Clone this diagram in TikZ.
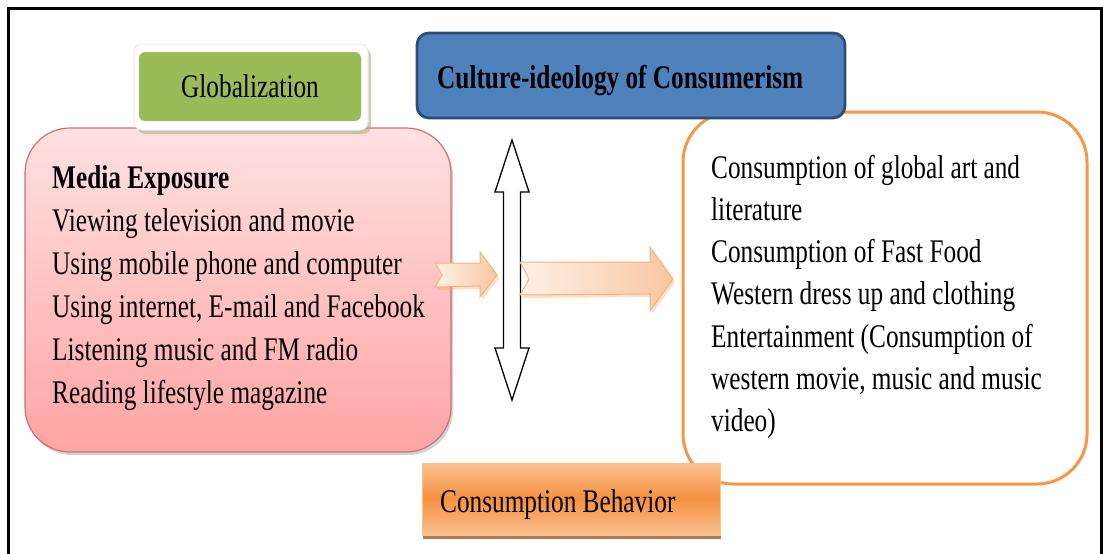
\documentclass[tikz,border=0pt]{standalone}
\usepackage{fontspec}
\setmainfont{Liberation Serif}[FakeStretch=0.766]
\usetikzlibrary{shadows,calc}
\definecolor{pinktop}{HTML}{FFE1E1}
\definecolor{pinkbot}{HTML}{FFA4A4}
\definecolor{pinkline}{HTML}{D07070}
\definecolor{orline}{HTML}{F79646}
\definecolor{bluefill}{HTML}{4F81BD}
\definecolor{blueline}{HTML}{2C4D75}
\definecolor{greenfill}{HTML}{9BBB59}
\definecolor{peachL}{HTML}{FEF1E6}
\definecolor{peachR}{HTML}{F9C6A0}
\definecolor{peachline}{HTML}{F8B27C}
\definecolor{cbmid}{HTML}{F59140}
\definecolor{cbedge}{HTML}{FAC090}
\tikzset{
  bodytext/.style={font=\fontsize{33}{43}\selectfont, inner sep=0pt, anchor=base west},
  pinkbox/.style={draw=pinkline, line width=1.2pt, rounded corners=45pt, top color=pinktop, bottom color=pinkbot,
     drop shadow={shadow xshift=2pt, shadow yshift=-3pt, opacity=0.35}},
  orbox/.style={draw=orline, line width=3pt, rounded corners=50pt, fill=white},
  bluebox/.style={draw=blueline, line width=2.8pt, rounded corners=12pt, fill=bluefill},
  glowbox/.style={draw=black!8, line width=1pt, rounded corners=8pt, fill=white,
     drop shadow={shadow xshift=3pt, shadow yshift=-4pt, opacity=0.55, fill=black!55!olive!50}},
  greenbox/.style={rounded corners=6pt, fill=greenfill},
  cbbox/.style={draw=cbedge, line width=1pt, top color=cbedge, bottom color=cbedge, middle color=cbmid,
     drop shadow={shadow xshift=1pt, shadow yshift=-4pt, opacity=0.8, fill=orline!60!black}},
  blockarrow/.style={draw=peachline, line width=1pt, left color=peachL, right color=peachR,
     drop shadow={shadow xshift=2pt, shadow yshift=-3pt, opacity=0.3, fill=orline}},
  dblarrow/.style={draw=black, line width=1.3pt, fill=white}
}
\begin{document}
\begin{tikzpicture}[x=1pt,y=1pt]
\useasboundingbox (0,0) rectangle (1103,-554);
\fill[white] (0,0) rectangle (1103,-554);
\draw[line width=2.5pt] (8.5,-556) -- (8.5,-8.5) -- (1101.5,-8.5) -- (1101.5,-556);

% boxes
\node[pinkbox, minimum width=426pt, minimum height=324pt] (media) at (238,-290) {};
\node[orbox, minimum width=404pt, minimum height=372pt] (cons) at (885,-298) {};
\node[bluebox, minimum width=428pt, minimum height=85pt] (culture) at (631,-75.5) {};
\node[glowbox, minimum width=234pt, minimum height=86pt] (glow) at (251,-87) {};
\node[greenbox, minimum width=222pt, minimum height=69pt, font=\fontsize{33}{43}\selectfont] (glob) at (250,-86.5) {Globalization};
\node[cbbox, minimum width=298pt, minimum height=72pt] (behav) at (571,-499) {};

% texts
\node[bodytext, font=\fontsize{33}{43}\selectfont\bfseries] (culturetext) at (437,-88) {Culture-ideology of Consumerism};
\node[bodytext] (behavtext) at (440,-512) {Consumption Behavior};
\node[bodytext] (mediatext) at (52,-188) {\vtop{\baselineskip=43pt
  \hbox{\textbf{Media Exposure}}
  \hbox{Viewing television and movie}
  \hbox{Using mobile phone and computer}
  \hbox{Using internet, E-mail and Facebook}
  \hbox{Listening music and FM radio}
  \hbox{Reading lifestyle magazine}}};
\node[bodytext] (constext) at (711,-178) {\vtop{\baselineskip=42.33pt
  \hbox{Consumption of global art and}
  \hbox{literature}
  \hbox{Consumption of Fast Food}
  \hbox{Western dress up and clothing}
  \hbox{Entertainment (Consumption of}
  \hbox{western movie, music and music}
  \hbox{video)}}};

% vertical double arrow
\coordinate (dtop) at (512,-140);
\coordinate (dbot) at (512,-400);
\draw[dblarrow] (dtop) -- ++(17,-52) -- ++(-8.5,0) -- ($(dbot)+(8.5,52)$) -- ++(8.5,0) -- (dbot)
   -- ++(-17,52) -- ++(8.5,0) -- ($(dtop)+(-8.5,-52)$) -- ++(-8.5,0) -- cycle;

% small arrow
\coordinate (s0) at (442,-275);
\coordinate (s1) at (497,-275);
\path[blockarrow] (s0) -- ++(-7,12) -- ($(s1)+(-17,12)$) -- ++(0,11) -- (s1) -- ++(-17,-22) -- ++(0,11)
   -- ($(s0)+(-7,-12)$) -- cycle;

% big arrow
\coordinate (b0) at (529,-279);
\coordinate (b1) at (673,-279);
\path[blockarrow] (b0) -- ++(-9,17) -- ($(b1)+(-23,17)$) -- ++(0,15) -- (b1) -- ++(-23,-32) -- ++(0,17)
   -- ($(b0)+(-9,-16)$) -- cycle;
\end{tikzpicture}
\end{document}
